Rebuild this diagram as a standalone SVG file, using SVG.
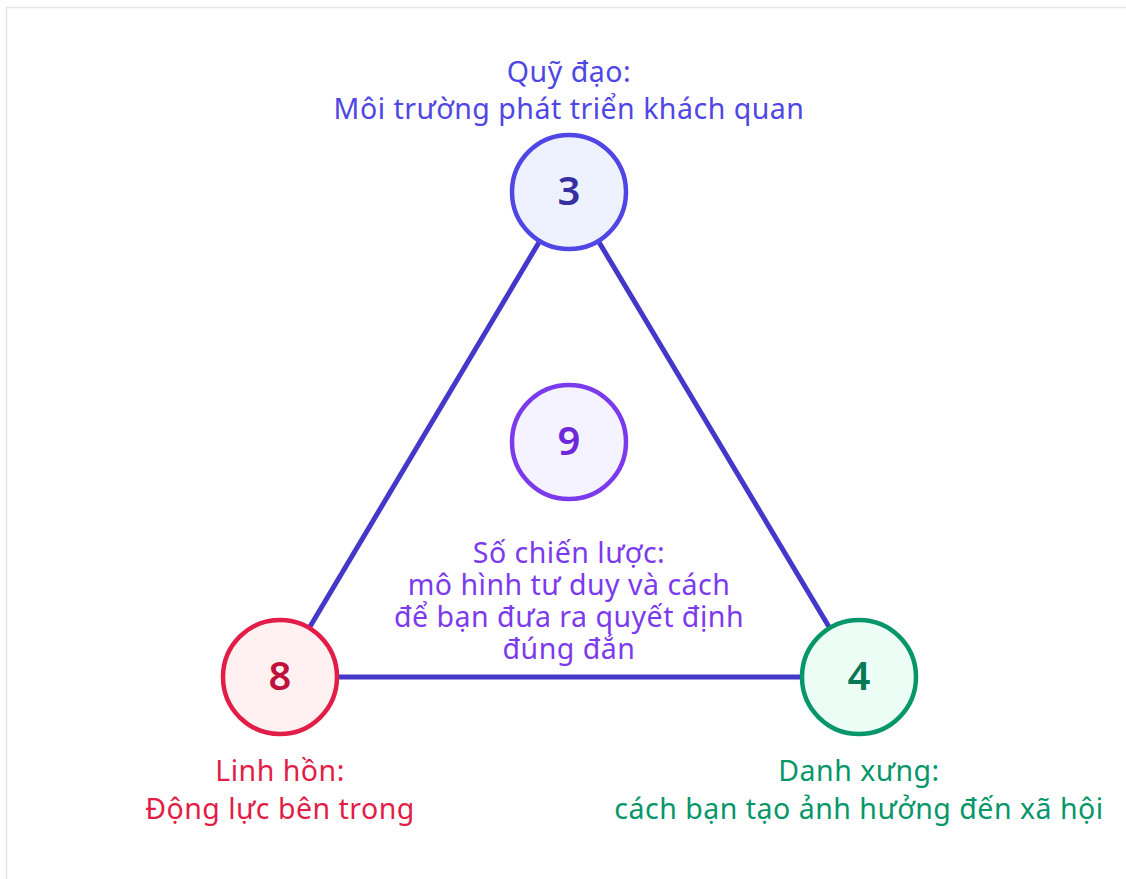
<svg xmlns="http://www.w3.org/2000/svg" width="1126" height="879" viewBox="0 0 1126 879">
<style>
text{font-family:"Noto Sans","Open Sans",sans-serif;text-anchor:middle}
.lbl{font-size:28.5px;letter-spacing:0.5px}
.num{font-size:40px;font-weight:600}
.edge{stroke:#4338ca;stroke-width:5;fill:none}
.node circle{stroke-width:4.5}
</style>
<rect x="6.5" y="7.5" width="1125" height="880" fill="#fff" stroke="#e5e5e5" stroke-width="1.5"/>
<g id="connectors">
<line class="edge" x1="569" y1="192" x2="280" y2="677"/>
<line class="edge" x1="569" y1="192" x2="859" y2="677"/>
<line class="edge" x1="280" y1="677" x2="859" y2="677"/>
</g>
<g id="node3" class="node">
<circle cx="569" cy="192" r="57" fill="#eef2ff" stroke="#4f46e5"/>
<text class="num" x="569" y="205" fill="#3730a3">3</text>
<text class="lbl" fill="#4f46e5"><tspan x="569" y="82">Quỹ đạo:</tspan><tspan x="569" y="119">Môi trường phát triển khách quan</tspan></text>
</g>
<g id="node9" class="node">
<circle cx="569" cy="442" r="57" fill="#f5f3ff" stroke="#7c3aed"/>
<text class="num" x="569" y="455" fill="#6d28d9">9</text>
<text class="lbl" fill="#7c3aed"><tspan x="569" y="563">Số chiến lược:</tspan><tspan x="569" y="595">mô hình tư duy và cách</tspan><tspan x="569" y="627">để bạn đưa ra quyết định</tspan><tspan x="569" y="659">đúng đắn</tspan></text>
</g>
<g id="node8" class="node">
<circle cx="280" cy="677" r="57" fill="#fff1f2" stroke="#e11d48"/>
<text class="num" x="280" y="690" fill="#be123c">8</text>
<text class="lbl" fill="#e11d48"><tspan x="280" y="781">Linh hồn:</tspan><tspan x="280" y="819">Động lực bên trong</tspan></text>
</g>
<g id="node4" class="node">
<circle cx="859" cy="677" r="57" fill="#ecfdf5" stroke="#059669"/>
<text class="num" x="859" y="690" fill="#047857">4</text>
<text class="lbl" fill="#059669"><tspan x="859" y="781">Danh xưng:</tspan><tspan x="859" y="819">cách bạn tạo ảnh hưởng đến xã hội</tspan></text>
</g>
</svg>
